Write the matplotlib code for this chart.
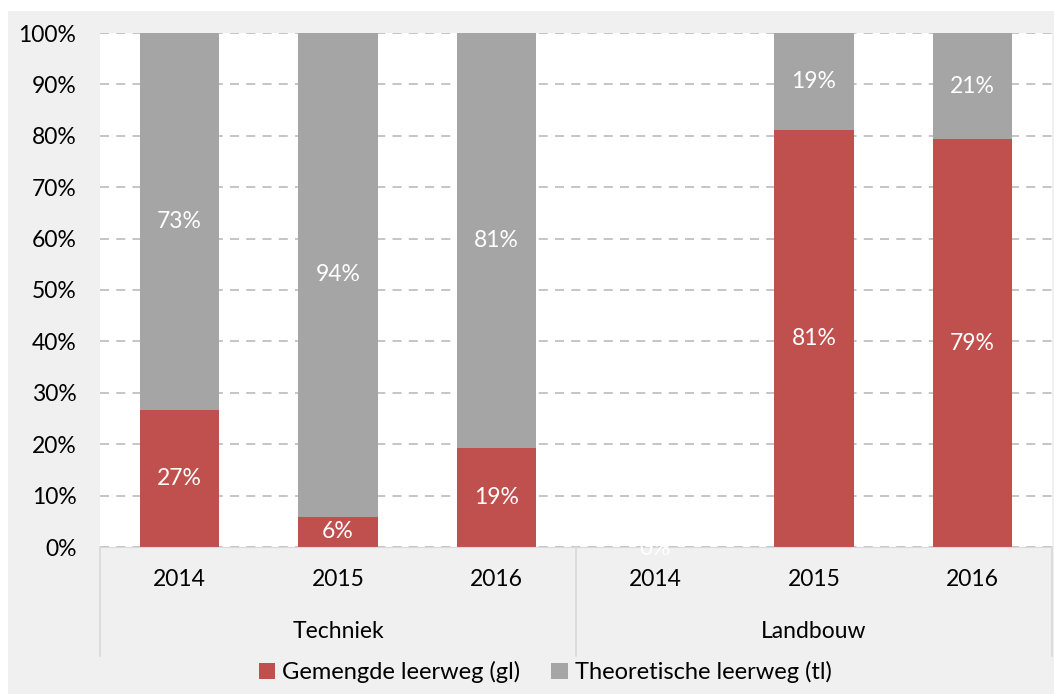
import matplotlib
matplotlib.use("Agg")
import matplotlib.pyplot as plt
from matplotlib.lines import Line2D
from matplotlib.patches import Patch, Rectangle

groups = ["Techniek", "Landbouw"]
years = ["2014", "2015", "2016"]
gl = [26.6, 5.9, 19.3, 0.0, 81.2, 79.3]   # Gemengde leerweg (gl)
tl = [73.4, 94.1, 80.7, 0.0, 18.8, 20.7]  # Theoretische leerweg (tl)
series_names = ["Gemengde leerweg (gl)", "Theoretische leerweg (tl)"]
yticks = [0, 10, 20, 30, 40, 50, 60, 70, 80, 90, 100]

RED = "#C0504D"
GRAY = "#A5A5A5"
BG = "#F0F0F0"
FONT = "Lato"
FS = 16.5

plt.rcParams["font.family"] = [FONT, "DejaVu Sans"]

W, H = 1054, 694
fig = plt.figure(figsize=(W / 100, H / 100), dpi=100)
fig.patch.set_facecolor("white")
fig.add_artist(Rectangle((8 / W, 0), 1 - 8 / W, 1 - 11 / H, transform=fig.transFigure,
                         facecolor=BG, edgecolor="none", zorder=-10))

ax = fig.add_axes([100 / W, (H - 547) / H, (1052 - 100) / W, (547 - 33) / H])
ax.set_facecolor("white")

n = len(gl)
x = list(range(n))
ax.bar(x, gl, width=0.5, color=RED, zorder=3)
ax.bar(x, tl, width=0.5, bottom=gl, color=GRAY, zorder=3)

for i in range(n):
    ax.text(i, gl[i] / 2 if gl[i] > 0 else -0.3, f"{gl[i]:.0f}%", ha="center", va="center",
            color="white", fontsize=FS, zorder=5, clip_on=False)
    if tl[i] > 0:
        ax.text(i, gl[i] + tl[i] / 2, f"{tl[i]:.0f}%", ha="center", va="center",
                color="white", fontsize=FS, zorder=5)

ax.set_xlim(-0.5, n - 0.5)
ax.set_ylim(0, 100)
ax.set_yticks(yticks)
ax.set_yticklabels([f"{t}%" for t in yticks], fontsize=FS)
ax.yaxis.grid(True, color="#C0C0C0", linestyle=(0, (5, 4)), linewidth=1.3, zorder=1)
ax.tick_params(axis="y", length=0, pad=17)
ax.set_xticks([])
for s in ["top", "right", "left"]:
    ax.spines[s].set_visible(False)
ax.spines["bottom"].set_color("#D9D9D9")
ax.spines["bottom"].set_zorder(4)

# category labels
for i in range(n):
    ax.text(i, -6.3, years[i % 3], ha="center", va="center", fontsize=FS, clip_on=False)
for g, name in enumerate(groups):
    ax.text(3 * g + 1, -16.4, name, ha="center", va="center", fontsize=FS, clip_on=False)

# separators
for xs in [-0.5, 2.5, 5.5]:
    ax.add_line(Line2D([xs, xs], [0, -21.2], color="#D9D9D9", linewidth=1.2, clip_on=False))

handles = [Patch(facecolor=RED, edgecolor="none"), Patch(facecolor=GRAY, edgecolor="none")]
leg = fig.legend(handles, series_names, loc="center", bbox_to_anchor=(545 / W, (H - 672) / H),
                 ncol=2, frameon=False, fontsize=17, handlelength=0.7, handleheight=0.7,
                 handletextpad=0.3, columnspacing=1.3)

fig.savefig("out.png", dpi=100, facecolor=fig.get_facecolor())
